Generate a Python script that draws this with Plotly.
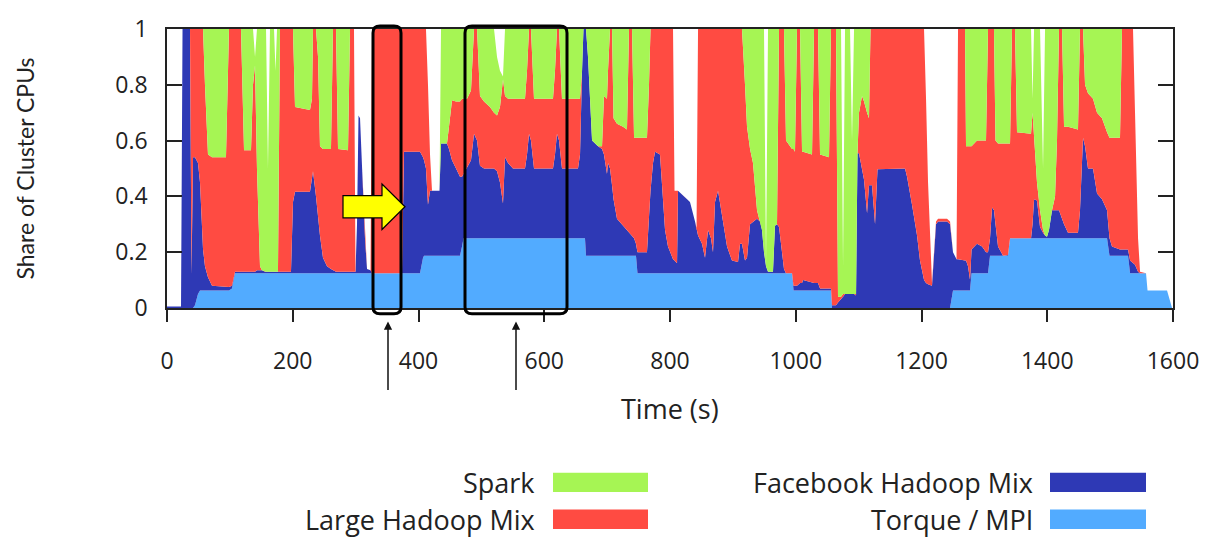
import plotly.graph_objects as go

# Time axis (seconds) and the upper edge of each stacked layer (share of cluster CPUs).
time_s = [
    0, 22.3, 24.7, 36.6, 39.0, 41.4, 44.5, 49.3, 52.5, 57.3,
    60.4, 65.2, 71.6, 93.8, 98.6, 103.4, 108.2, 117.7, 122.5, 133.6,
    136.8, 140.0, 143.1, 147.9, 151.1, 155.9, 157.5, 160.6, 163.8, 170.2,
    172.6, 175.0, 176.5, 179.7, 197.2, 200.4, 203.6, 227.4, 230.6, 232.2,
    237.0, 240.2, 243.3, 248.1, 254.5, 260.8, 264.0, 268.8, 272.0, 287.9,
    291.1, 297.4, 299.8, 302.2, 304.6, 307.0, 310.1, 314.9, 318.1, 323.7,
    326.1, 373.8, 376.9, 402.4, 407.2, 408.8, 411.9, 415.1, 418.3, 421.5,
    433.4, 435.8, 445.3, 448.5, 453.3, 459.7, 466.0, 469.2, 471.6, 477.2,
    483.5, 488.3, 493.1, 497.8, 504.2, 513.7, 520.1, 524.9, 529.6, 534.4,
    537.6, 542.4, 550.3, 569.4, 572.6, 575.8, 578.9, 583.7, 613.9, 617.1,
    620.3, 623.5, 628.2, 653.7, 656.9, 660.1, 662.4, 664.8, 666.4, 669.6,
    676.0, 685.5, 691.9, 695.0, 699.8, 701.4, 704.6, 707.8, 710.2, 715.7,
    725.3, 731.6, 734.8, 739.6, 742.8, 745.9, 748.3, 763.4, 766.6, 769.0,
    773.0, 776.2, 784.1, 787.3, 792.1, 796.8, 804.8, 807.2, 811.2, 812.7,
    822.3, 831.8, 839.8, 842.2, 844.6, 850.9, 855.7, 860.5, 865.2, 868.4,
    871.6, 876.4, 882.7, 890.7, 898.6, 908.2, 911.4, 914.5, 919.3, 922.5,
    927.3, 932.0, 938.4, 943.2, 946.3, 949.5, 952.7, 955.9, 963.8, 967.0,
    970.2, 973.4, 978.2, 981.3, 984.5, 994.1, 996.5, 998.8, 1002.0, 1006.8,
    1010.0, 1011.6, 1025.9, 1029.1, 1035.4, 1038.6, 1052.9, 1056.1, 1057.7, 1064.0,
    1067.2, 1072.0, 1075.2, 1078.4, 1086.3, 1089.5, 1092.7, 1095.9, 1098.2, 1100.6,
    1105.4, 1108.6, 1113.4, 1116.5, 1118.9, 1121.3, 1126.1, 1130.0, 1173.8, 1177.0,
    1184.9, 1192.9, 1197.6, 1204.0, 1207.2, 1210.4, 1216.7, 1219.9, 1223.1, 1226.3,
    1240.6, 1245.4, 1250.1, 1255.7, 1258.1, 1269.2, 1270.8, 1274.0, 1277.2, 1279.6,
    1288.3, 1296.3, 1302.6, 1305.8, 1309.0, 1312.2, 1315.3, 1317.7, 1321.7, 1329.7,
    1337.6, 1340.8, 1344.0, 1348.7, 1351.9, 1374.2, 1376.6, 1379.0, 1383.7, 1388.5,
    1393.3, 1396.5, 1399.6, 1402.8, 1407.6, 1412.4, 1415.5, 1418.7, 1423.5, 1426.7,
    1433.0, 1448.9, 1452.1, 1456.9, 1460.1, 1464.8, 1472.8, 1479.2, 1487.1, 1495.1,
    1499.0, 1503.0, 1515.7, 1518.9, 1528.5, 1531.7, 1536.4, 1539.6, 1544.4, 1547.6,
    1557.1, 1559.5, 1590.5, 1598.5, 1600,
]

torque_top = [
    0, 0, 0, 0, 0, 0, .01, .05, .0625, .0625,
    .0625, .0625, .0625, .0625, .0625, .07, .125, .125, .125, .125,
    .125, .125, .125, .125, .125, .125, .125, .125, .125, .125,
    .125, .125, .125, .125, .125, .125, .125, .125, .125, .125,
    .125, .125, .125, .125, .125, .125, .125, .125, .125, .125,
    .125, .125, .125, .125, .125, .125, .125, .125, .125, .125,
    .125, .125, .125, .125, .18, .1875, .1875, .1875, .1875, .1875,
    .1875, .1875, .1875, .1875, .1875, .1875, .1875, .22, .25, .25,
    .25, .25, .25, .25, .25, .25, .25, .25, .25, .25,
    .25, .25, .25, .25, .25, .25, .25, .25, .25, .25,
    .25, .25, .25, .25, .25, .25, .25, .25, .1875, .1875,
    .1875, .1875, .1875, .1875, .1875, .1875, .1875, .1875, .1875, .1875,
    .1875, .1875, .1875, .1875, .1875, .1875, .125, .125, .125, .125,
    .125, .125, .125, .125, .125, .125, .125, .125, .125, .125,
    .125, .125, .125, .125, .125, .125, .125, .125, .125, .125,
    .125, .125, .125, .125, .125, .125, .125, .125, .125, .125,
    .125, .125, .125, .125, .125, .125, .125, .125, .125, .125,
    .125, .125, .125, .125, .125, .125, .0625, .0625, .0625, .0625,
    .0625, .0625, .0625, .0625, .0625, .0625, .0625, .0625, 0, 0,
    0, 0, 0, 0, 0, 0, 0, 0, 0, 0,
    0, 0, 0, 0, 0, 0, 0, 0, 0, 0,
    0, 0, 0, 0, 0, 0, 0, 0, 0, 0,
    0, 0, .0625, .0625, .0625, .0625, .0625, .0625, .0625, .125,
    .125, .125, .125, .125, .1875, .1875, .1875, .1875, .1875, .1875,
    .1875, .25, .25, .25, .25, .25, .25, .25, .25, .25,
    .25, .25, .25, .25, .25, .25, .25, .25, .25, .25,
    .25, .25, .25, .25, .25, .25, .25, .25, .25, .25,
    .1875, .1875, .1875, .1875, .1875, .125, .125, .125, .125, .125,
    .125, .0625, .0625, 0, 0,
]

facebook_top = [
    .005, .005, 1, 1, .12, .54, .54, .52, .45, .21,
    .15, .11, .08, .075, .075, .08, .13, .13, .13, .13,
    .13, .13, .135, .135, .135, .13, .13, .13, .13, .13,
    .13, .13, .13, .13, .13, .38, .417, .417, .48, .49,
    .40, .32, .26, .18, .15, .14, .135, .13, .13, .13,
    .13, .13, .13, .3, .69, .68, .51, .25, .14, .135,
    .125, .125, .56, .56, .54, .53, .50, .37, .42, .42,
    .42, .59, .59, .57, .53, .50, .47, .47, .48, .50,
    .53, .625, .60, .51, .50, .50, .50, .49, .45, .375,
    .54, .52, .50, .50, .55, .625, .60, .50, .50, .55,
    .625, .60, .50, .50, .55, .85, 1, 1, 1, .90,
    .60, .58, .57, .55, .48, .52, .50, .44, .39, .32,
    .295, .28, .27, .26, .25, .23, .20, .20, .34, .42,
    .52, .56, .55, .44, .28, .22, .175, .17, .16, .42,
    .40, .38, .31, .28, .26, .23, .18, .28, .25, .20,
    .38, .42, .33, .22, .17, .165, .23, .23, .17, .18,
    .30, .31, .32, .31, .28, .20, .15, .13, .13, .295,
    .30, .29, .19, .14, .125, .125, .08, .08, .08, .09,
    .09, .10, .09, .09, .09, .07, .07, .07, .01, .01,
    .02, .03, .04, .05, .05, .05, .05, .045, .555, .555,
    .50, .46, .34, .44, .44, .44, .30, .497, .50, .47,
    .37, .26, .17, .10, .09, .085, .08, .20, .30, .31,
    .31, .30, .20, .175, .175, .17, .17, .15, .10, .21,
    .23, .22, .20, .20, .25, .36, .35, .30, .22, .1875,
    .19, .25, .25, .25, .25, .25, .30, .39, .385, .29,
    .27, .26, .255, .28, .35, .35, .35, .35, .32, .30,
    .27, .27, .35, .61, .58, .50, .50, .41, .39, .35,
    .25, .22, .21, .21, .21, .17, .16, .155, .13, .125,
    .125, .0625, .0625, 0, 0,
]

large_hadoop_top = [
    .005, .005, 1, 1, 1, 1, 1, 1, 1, 1,
    .80, .55, .54, .54, 1, 1, 1, 1, .565, .565,
    .80, .87, .5, .15, .135, .13, .13, .13, .13, .13,
    .13, .13, .13, 1, 1, 1, .72, .71, .75, 1,
    1, .9, .58, .57, .57, .57, 1, 1, .57, .565,
    1, 1, .13, .3, .69, .68, .51, .25, .14, .135,
    1, 1, 1, 1, 1, 1, 1, .80, .55, .42,
    .42, .59, .59, .65, .745, .74, .74, .75, .75, .75,
    .78, 1, 1, .76, .74, .72, .70, .69, .72, .82,
    .76, .75, .75, .75, .85, 1, 1, .75, .75, .85,
    1, 1, .75, .75, .75, .85, 1, 1, 1, .90,
    .60, .58, .58, .76, .75, .85, 1, 1, .68, .66,
    .65, .64, 1, 1, .61, .61, .61, .61, .80, 1,
    1, 1, 1, 1, 1, 1, 1, .42, .42, .42,
    .40, .38, .31, .28, 1, 1, 1, 1, 1, 1,
    1, 1, 1, 1, 1, 1, 1, 1, .80, .65,
    .57, .52, .35, .31, .28, .20, .15, .13, .13, .295,
    .30, 1, 1, 1, .60, .57, .57, .56, 1, 1,
    .56, .56, .55, 1, 1, .55, .54, 1, 1, 1,
    .04, .04, .05, .05, .05, .05, .05, .05, .555, .70,
    .76, .74, .70, .68, 1, 1, 1, 1, 1, 1,
    1, 1, 1, 1, .75, .45, .09, .21, .31, .32,
    .32, .31, .20, .175, 1, 1, .58, .58, .58, .58,
    .60, .60, .60, 1, 1, 1, 1, .60, .59, .59,
    .59, .59, 1, 1, .63, .625, .70, .60, .45, .35,
    .28, .26, .255, .28, .35, .40, .6, 1, 1, .65,
    .65, .64, 1, 1, .80, .77, .75, .70, .68, .63,
    .61, .61, .61, 1, 1, 1, 1, .7, .25, .13,
    .125, .0625, .0625, 0, 0,
]

spark_top = [
    .005, .005, 1, 1, 1, 1, 1, 1, 1, 1,
    1, 1, 1, 1, 1, 1, 1, 1, 1, 1,
    1, .9, 1, 1, 1, 1, 1, .5, 1, 1,
    .85, 1, 1, 1, 1, 1, 1, 1, 1, 1,
    1, 1, 1, 1, 1, 1, 1, 1, 1, 1,
    1, 1, .13, .3, .69, .68, .51, .25, .14, .135,
    1, 1, 1, 1, 1, 1, 1, .80, .55, .42,
    .42, 1, 1, 1, 1, 1, 1, 1, 1, 1,
    1, 1, 1, 1, 1, 1, 1, .9, .85, .83,
    1, 1, 1, 1, 1, 1, 1, 1, 1, 1,
    1, 1, 1, 1, 1, 1, 1, 1, 1, 1,
    1, 1, 1, 1, 1, 1, 1, 1, 1, 1,
    1, 1, 1, 1, 1, 1, 1, 1, 1, 1,
    1, 1, 1, 1, 1, 1, 1, .42, .42, .42,
    .40, .38, .31, .28, 1, 1, 1, 1, 1, 1,
    1, 1, 1, 1, 1, 1, 1, 1, 1, 1,
    1, 1, 1, 1, 1, 1, .15, 1, 1, 1,
    1, 1, 1, 1, 1, 1, 1, 1, 1, 1,
    1, 1, 1, 1, 1, 1, 1, 1, 1, 1,
    1, 1, .15, 1, 1, .6, 1, 1, 1, 1,
    1, 1, 1, 1, 1, 1, 1, 1, 1, 1,
    1, 1, 1, 1, .75, .45, .09, .21, .31, .32,
    .32, .31, .20, .175, 1, 1, 1, 1, 1, 1,
    1, 1, 1, 1, 1, 1, 1, 1, 1, 1,
    1, 1, 1, 1, 1, 1, .75, 1, 1, 1,
    .5, 1, 1, 1, 1, 1, 1, 1, 1, 1,
    1, 1, 1, 1, 1, 1, 1, 1, 1, 1,
    1, 1, 1, 1, 1, 1, 1, .7, .25, .13,
    .125, .0625, .0625, 0, 0,
]

layer_names = ["Torque / MPI", "Facebook Hadoop Mix", "Large Hadoop Mix", "Spark"]
layer_colors = ["#52abff", "#2e39b5", "#ff4b42", "#a6f554"]
x_ticks = [0, 200, 400, 600, 800, 1000, 1200, 1400, 1600]
y_ticks = [0, 0.2, 0.4, 0.6, 0.8, 1]
y_tick_text = ["0", "0.2", "0.4", "0.6", "0.8", "1"]

for series in (torque_top, facebook_top, large_hadoop_top, spark_top):
    assert len(series) == len(time_s)

W, H = 1211, 540
L, R, T, B = 167, 38, 20, 232
PW, PH = W - L - R, H - T - B
FONT = "Open Sans"
TITLE_FONT = "Lato"
INK = "#222222"


def px(x):
    return (x - L) / PW


def py(y):
    return (H - B - y) / PH


fig = go.Figure()
for i, (name, ys, color) in enumerate(
        zip(layer_names, [torque_top, facebook_top, large_hadoop_top, spark_top], layer_colors)):
    fig.add_trace(go.Scatter(
        x=time_s, y=ys, name=name, mode="lines",
        line=dict(width=0, color=color),
        fill="tozeroy" if i == 0 else "tonexty",
        fillcolor=color, hoverinfo="skip", showlegend=False,
    ))


def rounded_rect(x0, y0, x1, y1, r):
    """SVG path of a rounded rectangle given in pixel coordinates, emitted in paper units."""
    pts = [
        f"M {px(x0 + r)},{py(y0)}",
        f"L {px(x1 - r)},{py(y0)}",
        f"Q {px(x1)},{py(y0)} {px(x1)},{py(y0 + r)}",
        f"L {px(x1)},{py(y1 - r)}",
        f"Q {px(x1)},{py(y1)} {px(x1 - r)},{py(y1)}",
        f"L {px(x0 + r)},{py(y1)}",
        f"Q {px(x0)},{py(y1)} {px(x0)},{py(y1 - r)}",
        f"L {px(x0)},{py(y0 + r)}",
        f"Q {px(x0)},{py(y0)} {px(x0 + r)},{py(y0)}",
        "Z",
    ]
    return " ".join(pts)


shapes = []
# Highlight boxes around the two intervals of interest
for (x0, x1) in [(373, 401), (465, 567)]:
    shapes.append(dict(type="path", xref="paper", yref="paper",
                       path=rounded_rect(x0, 17, x1, 314, 7),
                       line=dict(color="#000000", width=3), fillcolor="rgba(0,0,0,0)", layer="above"))

# Yellow block arrow pointing at the first box
arrow_pts = [(343, 192), (382, 192), (382, 180), (405, 203.5), (382, 227), (382, 215), (343, 215)]
arrow_path = "M " + " L ".join(f"{px(a)},{py(b)}" for a, b in arrow_pts) + " Z"
shapes.append(dict(type="path", xref="paper", yref="paper", path=arrow_path,
                   fillcolor="#ffff00", line=dict(color="#000000", width=1.2), layer="above"))

# Legend swatches and labels
legend_rows = [
    ("Spark", "#a6f554", 553, 648, 537, 488),
    ("Large Hadoop Mix", "#ff4b42", 553, 648, 537, 526),
    ("Facebook Hadoop Mix", "#2e39b5", 1050, 1146, 1035, 488),
    ("Torque / MPI", "#52abff", 1050, 1146, 1035, 526),
]
annotations = []
for label, color, sx0, sx1, tx, cy in legend_rows:
    shapes.append(dict(type="rect", xref="paper", yref="paper",
                       x0=px(sx0), x1=px(sx1), y0=py(cy - 10), y1=py(cy + 10),
                       fillcolor=color, line=dict(width=0)))
    annotations.append(dict(xref="paper", yref="paper", x=px(tx), y=py(cy),
                            xanchor="right", yanchor="middle", showarrow=False,
                            text=label, font=dict(family=FONT, size=27, color=INK)))

# Upward pointers under the x axis
for ax_x in (388, 516):
    annotations.append(dict(xref="paper", yref="paper", x=px(ax_x), y=py(322),
                            ax=0, ay=70, showarrow=True, text="",
                            arrowhead=2, arrowsize=1.1, arrowwidth=1.5, arrowcolor="#111111"))

# Axis titles
annotations.append(dict(xref="paper", yref="paper", x=px(670), y=py(412),
                        xanchor="center", yanchor="middle", showarrow=False,
                        text="Time (s)", font=dict(family=FONT, size=27, color=INK)))
annotations.append(dict(xref="paper", yref="paper", x=px(24), y=py(164),
                        xanchor="center", yanchor="middle", showarrow=False, textangle=-90,
                        text="Share of Cluster CPUs", font=dict(family=TITLE_FONT, size=23, color=INK)))

fig.update_layout(
    width=W, height=H,
    margin=dict(l=L, r=R, t=T, b=B),
    paper_bgcolor="white", plot_bgcolor="white",
    showlegend=False,
    font=dict(family=FONT, size=23, color=INK),
    shapes=shapes, annotations=annotations,
)
fig.update_xaxes(
    range=[0, 1600], tickvals=x_ticks, ticks="outside", ticklen=12, tickwidth=1.5,
    tickcolor=INK, showline=True, linecolor=INK, linewidth=1.5, mirror=True,
    showgrid=False, zeroline=False, ticklabelstandoff=20,
    tickfont=dict(family=FONT, size=23, color=INK),
)
fig.update_yaxes(
    range=[0, 1], tickvals=y_ticks, ticktext=y_tick_text, ticks="inside", ticklen=15,
    tickwidth=1.5, tickcolor=INK, showline=True, linecolor=INK, linewidth=1.5,
    mirror="ticks", showgrid=False, zeroline=False, ticklabelstandoff=13,
    tickfont=dict(family=FONT, size=23, color=INK),
)

fig.write_html("out.html")
